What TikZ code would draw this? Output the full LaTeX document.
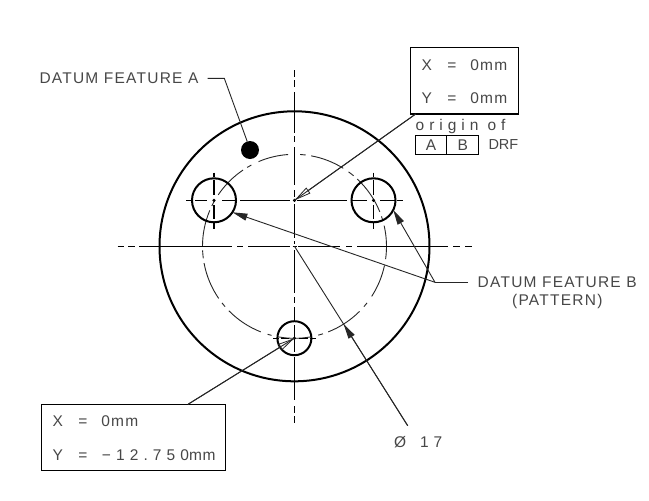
\documentclass[tikz,border=0pt]{standalone}
\usepackage{fontspec}
\setmainfont{Liberation Sans}[LetterSpace=4]
\usetikzlibrary{arrows.meta}
\newcommand{\wide}[2]{{\addfontfeature{LetterSpace=#1}#2}}
\tikzset{
  centre line/.style={line width=1.4pt,black},
  pitch line/.style={line width=0.9pt,black!85},
  leader/.style={line width=0.9pt,black!85},
  frame/.style={draw=black,line width=1.3pt,fill=none,inner sep=0pt,outer sep=0pt},
  lbl/.style={inner sep=0pt,outer sep=0pt,text=black!72,font=\fontsize{15.5}{15.5}\selectfont},
  hole/.style={circle,draw=black,line width=2pt,inner sep=0pt,outer sep=0pt},
  open head/.style={-{Triangle[open,length=17pt,width=7pt,line width=0.8pt]}},
  solid head/.style={-{Triangle[length=15pt,width=7pt]}},
}
\begin{document}
\begin{tikzpicture}[x=1pt,y=1pt]
\useasboundingbox[fill=white] (0,0) rectangle (649,-501);

% part outline
\node[circle,draw=black,line width=2pt,minimum size=270pt,inner sep=0pt,outer sep=0pt] (part) at (294.5,-246.3) {};
\coordinate (cen) at (294.5,-246.3);
\coordinate (org) at (294.5,-200.3);

% pitch circle
\begin{scope}[shift={(294.5,-246.3)}]
\foreach \a/\b in {94/113,118/121,124/146,150/154,157/180,182.5/187.5,190.5/214.5,218/221,224.5/248.5,253/255.5,260/280,285/288,291.5/315,319/322,327/348,352/373,376/379,382/407,410/414,418/439.5,443/446.5}
  \draw[pitch line] (\a:92) arc[start angle=\a,end angle=\b,radius=92];
\end{scope}

% holes
\node[hole,minimum size=44pt] (h1) at (214,-200.3) {};
\node[hole,minimum size=44pt] (h2) at (373.5,-200.3) {};
\node[hole,minimum size=34pt] (h3) at (294.4,-338.2) {};
\node[circle,fill=black,minimum size=18pt,inner sep=0pt,outer sep=0pt] (dot) at (250,-150) {};

% centre lines
\foreach \p/\q in {70/77,80/87,92/133,136/142,147/185,190/197,204/238,241/244,250/293,297/303,307/322,325/352,357/400,406/413,416/423}
  \draw[centre line] (294.5,-\p) -- (294.5,-\q);
\foreach \p/\q in {117.5/124,128/135,139/232,237/243,248/290,292.5/296.5,298/340,346/352,357/448,453/460,465/472}
  \draw[centre line] (\p,-246.3) -- (\q,-246.3);
\foreach \p/\q in {186/191,195/207,222/236,240/290,297/347,352/367,380/395,397/403}
  \draw[centre line] (\p,-200.3) -- (\q,-200.3);
\foreach \x in {214,373.5}
  \foreach \p/\q in {172.5/177,180/195,205/219,222/228.5}
    \draw[centre line] (\x,-\p) -- (\x,-\q);
\foreach \p/\q in {273/279,281/289,299/308,310/316}
  \draw[centre line] (\p,-338.2) -- (\q,-338.2);
\foreach \c in {h1.center,h2.center,h3.center,org}
  \fill[black] (\c) circle[radius=1.7pt];

% boxes
\node[frame,minimum width=108pt,minimum height=66.7pt] (box1) at (464.3,-80.6) {};
\node[frame,minimum width=183.6pt,minimum height=66pt] (box2) at (133.5,-437.3) {};
\node[frame,minimum width=31.4pt,minimum height=19pt] (fa) at (431,-144.8) {};
\node[frame,minimum width=32pt,minimum height=19pt] (fb) at (462.7,-144.8) {};

% texts
\node[lbl,anchor=west] (ta) at (39.5,-78.5) {\wide{8}{DATUM FEATURE A}};
\node[lbl,anchor=west] (tb) at (477.7,-282.3) {\wide{8}{DATUM FEATURE B}};
\node[lbl] (tp) at (557.3,-301.7) {\wide{8}{(PATTERN)}};
\node[lbl,anchor=west] (x1) at (421.5,-65) {X\hspace{15.5pt}=\hspace{14pt}\wide{8}{0mm}};
\node[lbl,anchor=west] (y1) at (421.5,-98) {Y\hspace{15.5pt}=\hspace{14pt}\wide{8}{0mm}};
\node[lbl,anchor=west] (x2) at (52.5,-421) {X\hspace{15.5pt}=\hspace{14pt}\wide{8}{0mm}};
\node[lbl,anchor=west] (y2) at (52.5,-455) {Y\hspace{15.5pt}=\hspace{14.5pt}\wide{33}{−12.750}mm};
\node[lbl,anchor=west] (or) at (415.7,-126.5) {\wide{32}{origin of}};
\node[lbl] at (fa.center) {A};
\node[lbl] at (fb.center) {B};
\node[lbl,anchor=west] (drf) at (488.5,-145) {\fontsize{14.5}{15}\selectfont\wide{0}{DRF}};
\node[lbl,anchor=west] (dia) at (394,-442) {Ø\hspace{14pt}\wide{32}{17}};

% leaders
\coordinate (afoot) at (207.7,-78.3);
\coordinate (aknee) at (224.3,-78.3);
\draw[leader] (afoot) -- (aknee) -- (dot.108);

\coordinate (b1foot) at (415.7,-114);
\draw[leader] (b1foot) -- (org);
\draw[leader,open head] (b1foot) -- (org);
\coordinate (b2foot) at (188,-404.3);
\draw[leader] (b2foot) -- (h3.center);
\draw[leader,open head] (b2foot) -- (h3.center);

\coordinate (bend) at (468,-282.3);
\coordinate (bknee) at (435,-282.3);
\draw[leader] (bend) -- (bknee);
\draw[leader,solid head] (bknee) -- (h1.-33);
\draw[leader,solid head] (bknee) -- (h2.-26.5);

\coordinate (dfoot) at (407.7,-425.7);
\coordinate (dtip) at (343.6,-324.1);
\draw[leader] (dfoot) -- (cen);
\draw[leader,solid head] (dfoot) -- (dtip);
\end{tikzpicture}
\end{document}
